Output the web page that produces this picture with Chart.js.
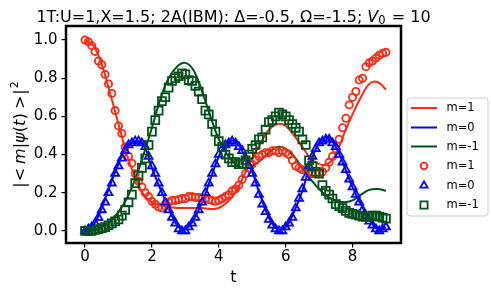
<!DOCTYPE html>
<html><head><meta charset="utf-8">
<script src="https://cdn.jsdelivr.net/npm/chart.js@4.4.0/dist/chart.umd.min.js"></script>
<style>html,body{margin:0;padding:0;background:#fff;} canvas{display:block;}</style>
</head><body>
<canvas id="c" width="491" height="292"></canvas>
<script>
// ---- data ----
const T_LINE = [0,0.25,0.5,0.75,1,1.25,1.5,1.75,2,2.25,2.5,2.75,3,3.25,3.5,3.75,4,4.25,4.5,4.75,5,5.25,5.5,5.75,6,6.25,6.5,6.75,7,7.25,7.5,7.75,8,8.25,8.5,8.75,9];
const LINE_M1 = [1.0,0.97,0.87,0.72,0.56,0.40,0.28,0.19,0.15,0.135,0.125,0.12,0.12,0.12,0.12,0.115,0.12,0.15,0.20,0.29,0.38,0.46,0.53,0.56,0.55,0.50,0.44,0.38,0.35,0.35,0.40,0.51,0.61,0.70,0.77,0.78,0.74];
const LINE_M0 = [0,0.03,0.12,0.24,0.35,0.44,0.47,0.45,0.33,0.22,0.12,0.03,0.01,0.06,0.15,0.27,0.39,0.46,0.47,0.40,0.31,0.18,0.07,0.01,0.02,0.10,0.21,0.36,0.46,0.49,0.44,0.34,0.23,0.14,0.06,0.01,0.02];
const LINE_MM1 = [0,0.005,0.02,0.05,0.10,0.17,0.27,0.40,0.54,0.69,0.80,0.86,0.88,0.84,0.73,0.60,0.48,0.40,0.35,0.33,0.34,0.37,0.41,0.44,0.43,0.39,0.33,0.27,0.22,0.18,0.16,0.15,0.16,0.19,0.215,0.22,0.21];

const T_MARK = [0,0.1,0.2,0.3,0.4,0.5,0.6,0.7,0.8,0.9,1.0,1.1,1.2,1.3,1.4,1.5,1.6,1.7,1.8,1.9,2.0,2.1,2.2,2.3,2.4,2.5,2.6,2.7,2.8,2.9,3.0,3.1,3.2,3.3,3.4,3.5,3.6,3.7,3.8,3.9,4.0,4.1,4.2,4.3,4.4,4.5,4.6,4.7,4.8,4.9,5.0,5.1,5.2,5.3,5.4,5.5,5.6,5.7,5.8,5.9,6.0,6.1,6.2,6.3,6.4,6.5,6.6,6.7,6.8,6.9,7.0,7.1,7.2,7.3,7.4,7.5,7.6,7.7,7.8,7.9,8.0,8.1,8.2,8.3,8.4,8.5,8.6,8.7,8.8,8.9,9.0];
const MARK_M1 = [1.00,0.99,0.97,0.94,0.89,0.87,0.82,0.77,0.72,0.63,0.55,0.51,0.44,0.39,0.355,0.30,0.26,0.23,0.20,0.18,0.155,0.14,0.125,0.12,0.13,0.15,0.16,0.16,0.165,0.17,0.17,0.18,0.18,0.175,0.175,0.17,0.17,0.165,0.16,0.155,0.16,0.17,0.18,0.19,0.21,0.22,0.24,0.27,0.30,0.33,0.35,0.37,0.39,0.40,0.41,0.41,0.42,0.42,0.41,0.42,0.41,0.40,0.37,0.34,0.33,0.32,0.32,0.31,0.30,0.30,0.30,0.31,0.33,0.36,0.39,0.43,0.48,0.54,0.59,0.66,0.70,0.73,0.79,0.80,0.86,0.88,0.89,0.905,0.92,0.93,0.935];
const MARK_M0 = [0.0,0.01,0.02,0.04,0.07,0.11,0.15,0.20,0.25,0.30,0.34,0.38,0.42,0.45,0.46,0.47,0.47,0.46,0.44,0.39,0.34,0.30,0.25,0.20,0.15,0.11,0.07,0.04,0.01,0.0,0.0,0.02,0.04,0.07,0.11,0.15,0.20,0.25,0.30,0.35,0.40,0.43,0.45,0.46,0.47,0.46,0.44,0.42,0.38,0.34,0.30,0.25,0.19,0.14,0.10,0.06,0.03,0.01,0.0,0.0,0.02,0.04,0.07,0.12,0.17,0.22,0.28,0.34,0.39,0.43,0.46,0.47,0.48,0.48,0.46,0.44,0.40,0.36,0.32,0.27,0.23,0.19,0.15,0.11,0.08,0.05,0.03,0.01,0.0,0.01,0.02];
const MARK_MM1 = [0.0,0.0,0.0,0.005,0.01,0.015,0.02,0.03,0.04,0.05,0.06,0.08,0.11,0.15,0.19,0.25,0.29,0.33,0.38,0.45,0.52,0.58,0.63,0.68,0.70,0.75,0.785,0.80,0.81,0.825,0.82,0.79,0.785,0.76,0.73,0.69,0.63,0.61,0.56,0.52,0.47,0.44,0.40,0.38,0.36,0.36,0.35,0.35,0.37,0.40,0.43,0.45,0.48,0.49,0.53,0.57,0.58,0.60,0.62,0.61,0.60,0.58,0.56,0.54,0.52,0.48,0.45,0.37,0.34,0.31,0.30,0.24,0.21,0.19,0.17,0.14,0.13,0.12,0.105,0.095,0.09,0.085,0.08,0.075,0.075,0.075,0.08,0.08,0.075,0.07,0.065];

const X_TICKS = [0,2,4,6,8];
const Y_TICKS = [0,0.2,0.4,0.6,0.8,1.0];
const LABELS = ['m=1','m=0','m=-1'];

// ---- styles ----
const RED = '#ff2a14', BLUE = '#0000ff', GREEN = '#00501a';
const FONT = '"DejaVu Sans"';
Chart.defaults.font.family = FONT;

const pts = (xs, ys) => xs.map((x, i) => ({x, y: ys[i]}));

const lineDs = (label, data, color, order) => ({
  type: 'line', label, data: pts(T_LINE, data), borderColor: color, backgroundColor: color,
  borderWidth: 2, pointRadius: 0, tension: 0.4, fill: false, order
});
const markDs = (label, data, color, style, radius, order) => ({
  type: 'scatter', label, data: pts(T_MARK, data), borderColor: color, backgroundColor: 'rgba(0,0,0,0)',
  pointStyle: style, pointRadius: radius, pointBorderWidth: 1.8, showLine: false, order
});

function drawParts(ctx, parts, x, y) {
  let cx = x;
  for (const p of parts) {
    ctx.font = p.font;
    ctx.fillText(p.t, cx, y + (p.dy || 0));
    cx += ctx.measureText(p.t).width + (p.sp || 0);
  }
}
function partsWidth(ctx, parts) {
  let w = 0;
  for (const p of parts) { ctx.font = p.font; w += ctx.measureText(p.t).width + (p.sp || 0); }
  return w;
}

const decorPlugin = {
  id: 'decor',
  afterDatasetsDraw(chart) {
    const {ctx, chartArea: a} = chart;
    ctx.save();
    ctx.strokeStyle = '#000'; ctx.lineWidth = 2.5;
    ctx.strokeRect(a.left, a.top, a.right - a.left, a.bottom - a.top);
    ctx.restore();
  },
  afterDraw(chart) {
    const {ctx, chartArea: a} = chart;
    ctx.save();
    ctx.fillStyle = '#000';
    ctx.textBaseline = 'alphabetic';
    ctx.textAlign = 'left';
    // title
    const up = '16px ' + FONT, it = 'italic 16px ' + FONT, sub = '11.5px ' + FONT;
    const title = [
      {t: '1T:U=1,X=1.5; 2A(IBM): Δ=-0.5, Ω=-1.5; ', font: up},
      {t: 'V', font: it},
      {t: '0', font: sub, dy: 2.5, sp: 1},
      {t: ' = 10', font: up}
    ];
    const tw = partsWidth(ctx, title);
    drawParts(ctx, title, (a.left + a.right) / 2 - tw / 2, 21.5);
    // x label
    ctx.font = '16px ' + FONT; ctx.textAlign = 'center';
    ctx.fillText('t', (a.left + a.right) / 2, 282);
    // y label
    ctx.textAlign = 'left';
    const yu = '16px ' + FONT, yi = 'italic 16px ' + FONT, ys = '11px ' + FONT;
    const yl = [
      {t: '|', font: yu, sp: 1}, {t: '<', font: yu, sp: 4}, {t: 'm', font: yi},
      {t: '|', font: yu}, {t: 'ψ', font: yi}, {t: '(', font: yu}, {t: 't', font: yi, sp: 0.5},
      {t: ')', font: yu, sp: 4}, {t: '>', font: yu, sp: 1}, {t: '|', font: yu, sp: 1},
      {t: '2', font: ys, dy: -7}
    ];
    const yw = partsWidth(ctx, yl);
    ctx.translate(25, (a.top + a.bottom) / 2);
    ctx.rotate(-Math.PI / 2);
    drawParts(ctx, yl, -yw / 2, 0);
    ctx.restore();

    // legend
    ctx.save();
    const bx = 407, by = 98, bw = 81, bh = 118, r = 3;
    ctx.beginPath();
    ctx.moveTo(bx + r, by); ctx.lineTo(bx + bw - r, by); ctx.quadraticCurveTo(bx + bw, by, bx + bw, by + r);
    ctx.lineTo(bx + bw, by + bh - r); ctx.quadraticCurveTo(bx + bw, by + bh, bx + bw - r, by + bh);
    ctx.lineTo(bx + r, by + bh); ctx.quadraticCurveTo(bx, by + bh, bx, by + bh - r);
    ctx.lineTo(bx, by + r); ctx.quadraticCurveTo(bx, by, bx + r, by);
    ctx.closePath();
    ctx.fillStyle = 'rgba(255,255,255,0.85)'; ctx.fill();
    ctx.strokeStyle = '#cccccc'; ctx.lineWidth = 1; ctx.stroke();
    const rows = [108, 127.5, 146.5, 166, 185.5, 205];
    const cols = [RED, BLUE, GREEN];
    ctx.font = '11.5px ' + FONT; ctx.textBaseline = 'middle'; ctx.textAlign = 'left';
    for (let i = 0; i < 3; i++) {
      ctx.strokeStyle = cols[i]; ctx.lineWidth = 2;
      ctx.beginPath(); ctx.moveTo(411, rows[i]); ctx.lineTo(437, rows[i]); ctx.stroke();
      ctx.fillStyle = '#000'; ctx.fillText(LABELS[i], 446.5, rows[i] + 0.5);
    }
    const mx = 424;
    ctx.lineWidth = 1.8;
    // circle
    ctx.strokeStyle = RED; ctx.beginPath(); ctx.arc(mx, rows[3], 3.3, 0, Math.PI * 2); ctx.stroke();
    // triangle
    ctx.strokeStyle = BLUE; ctx.beginPath();
    const tr = 4.2, ty = rows[4];
    ctx.moveTo(mx, ty - tr); ctx.lineTo(mx + tr * 0.866, ty + tr * 0.5); ctx.lineTo(mx - tr * 0.866, ty + tr * 0.5); ctx.closePath(); ctx.stroke();
    // square
    ctx.strokeStyle = GREEN; ctx.strokeRect(mx - 3.6, rows[5] - 3.6, 7.2, 7.2);
    ctx.fillStyle = '#000';
    for (let i = 0; i < 3; i++) ctx.fillText(LABELS[i], 446.5, rows[3 + i] + 0.5);
    ctx.restore();
  }
};

const tickFont = {size: 15, family: FONT};
new Chart(document.getElementById('c'), {
  data: {
    datasets: [
      lineDs(LABELS[0], LINE_M1, RED, 6),
      lineDs(LABELS[1], LINE_M0, BLUE, 5),
      lineDs(LABELS[2], LINE_MM1, GREEN, 4),
      markDs(LABELS[0], MARK_M1, RED, 'circle', 3.6, 3),
      markDs(LABELS[1], MARK_M0, BLUE, 'triangle', 4.6, 2),
      markDs(LABELS[2], MARK_MM1, GREEN, 'rect', 5.6, 1)
    ]
  },
  options: {
    responsive: false, animation: false, devicePixelRatio: 1,
    layout: {padding: {top: 26, right: 90, left: 0, bottom: 0}},
    plugins: {legend: {display: false}, title: {display: false}, tooltip: {enabled: false}},
    scales: {
      x: {
        type: 'linear', min: -0.57, max: 9.45,
        afterBuildTicks: s => { s.ticks = X_TICKS.map(v => ({value: v})); },
        afterFit: s => { s.height = 49; },
        ticks: {color: '#000', font: tickFont, padding: 1, maxRotation: 0, autoSkip: false, callback: v => String(v)},
        grid: {display: true, drawOnChartArea: false, drawTicks: true, tickLength: 4.5, color: '#000', lineWidth: 1.2},
        border: {display: false}
      },
      y: {
        type: 'linear', min: -0.063, max: 1.073,
        afterBuildTicks: s => { s.ticks = Y_TICKS.map(v => ({value: v})); },
        afterFit: s => { s.width = 66; },
        ticks: {color: '#000', font: tickFont, padding: 4, autoSkip: false, callback: v => v.toFixed(1)},
        grid: {display: true, drawOnChartArea: false, drawTicks: true, tickLength: 4.5, color: '#000', lineWidth: 1.2},
        border: {display: false}
      }
    }
  },
  plugins: [decorPlugin]
});
</script>
</body></html>
